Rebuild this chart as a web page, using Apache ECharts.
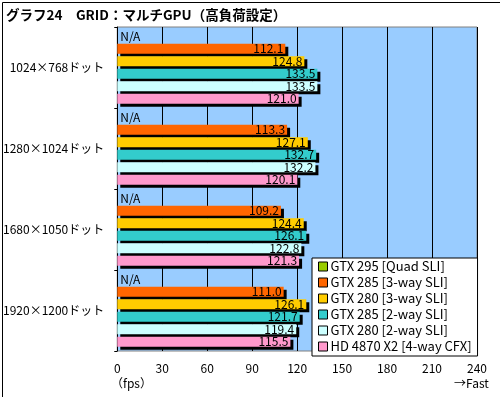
<!DOCTYPE html>
<html>
<head>
<meta charset="utf-8">
<script src="https://cdn.jsdelivr.net/npm/echarts@6/dist/echarts.min.js"></script>
<style>
html, body { margin: 0; padding: 0; background: #fff; }
#chart { width: 500px; height: 397px; }
</style>
</head>
<body>
<div id="chart"></div>
<script>
var categories = ['1024×768ドット', '1280×1024ドット', '1680×1050ドット', '1920×1200ドット'];
var seriesNames = ['GTX 295 [Quad SLI]', 'GTX 285 [3-way SLI]', 'GTX 280 [3-way SLI]', 'GTX 285 [2-way SLI]', 'GTX 280 [2-way SLI]', 'HD 4870 X2 [4-way CFX]'];
var seriesColors = ['#99CC00', '#FF6600', '#FFCC00', '#33CCCC', '#CCFFFF', '#FF99CC'];
// GTX 295 は N/A
var gtx295quad = [0, 0, 0, 0];
var gtx285tri = [112.1, 113.3, 109.2, 111.0];
var gtx280tri = [124.8, 127.1, 124.4, 126.1];
var gtx285sli = [133.5, 132.7, 126.1, 121.7];
var gtx280sli = [133.5, 132.2, 122.8, 119.4];
var hd4870cfx = [121.0, 120.1, 121.3, 115.5];
var allData = [gtx295quad, gtx285tri, gtx280tri, gtx285sli, gtx280sli, hd4870cfx];
var xTicks = [0, 30, 60, 90, 120, 150, 180, 210, 240];

var fontJP = '"Noto Sans CJK JP", "DejaVu Sans", sans-serif';

var option = {
    animation: false,
    textStyle: {fontFamily: fontJP},
    grid: {
        left: 113,
        right: 23,
        top: 27,
        bottom: 46,
        show: true,
        backgroundColor: '#99CCFF',
        borderColor: '#808080',
        borderWidth: 1
    },
    legend: {
        data: seriesNames,
        orient: 'vertical',
        left: 312,
        top: 258,
        backgroundColor: '#fff',
        borderColor: '#000',
        borderWidth: 1,
        borderRadius: 0,
        padding: [2, 6, 3, 6],
        itemWidth: 9,
        itemHeight: 9,
        itemGap: 3,
        icon: 'rect',
        itemStyle: {borderColor: '#000', borderWidth: 1},
        textStyle: {fontSize: 13, lineHeight: 12, color: '#000', padding: [0, 0, 0, -2]}
    },
    xAxis: {
        type: 'value',
        min: 0,
        max: 240,
        interval: 30,
        axisLine: {show: false},
        axisTick: {show: false},
        splitLine: {show: true, lineStyle: {color: '#000', width: 1}},
        axisLabel: {
            color: '#000',
            fontSize: 12,
            margin: 11,
            formatter: function (v) { return xTicks.indexOf(v) >= 0 ? String(v) : ''; }
        }
    },
    yAxis: {
        type: 'category',
        inverse: true,
        data: categories,
        axisLine: {show: true, lineStyle: {color: '#000'}},
        axisTick: {show: true, length: 3, lineStyle: {color: '#000'}},
        axisLabel: {color: '#000', fontSize: 12, margin: 13}
    },
    graphic: [
        {
            type: 'rect',
            left: 0, top: 0,
            shape: {x: 0.5, y: 0.5, width: 499, height: 396},
            style: {fill: null, stroke: '#000', lineWidth: 1},
            z: 100
        },
        {
            type: 'text', left: 6, top: 8,
            style: {text: 'グラフ24　GRID：マルチGPU（高負荷設定）', font: 'bold 13.5px ' + fontJP, fill: '#000'}
        },
        {
            type: 'text', left: 111, top: 377,
            style: {text: '（fps）', font: '12px ' + fontJP, fill: '#000'}
        },
        {
            type: 'text', left: 454, top: 377,
            style: {text: '→Fast', font: '12px ' + fontJP, fill: '#000'}
        }
    ],
    series: function () {
        var serie = [];
        for (var i = 0; i < seriesNames.length; i++) {
            var isNA = (i === 0);
            serie.push({
                name: seriesNames[i],
                type: 'bar',
                data: allData[i],
                barWidth: 10,
                barGap: '25%',
                itemStyle: {
                    color: seriesColors[i],
                    shadowColor: '#000',
                    shadowOffsetX: 3,
                    shadowOffsetY: 3,
                    shadowBlur: 0
                },
                label: {
                    show: true,
                    position: isNA ? 'right' : 'insideRight',
                    distance: isNA ? 3 : 2,
                    color: '#000',
                    fontSize: 12,
                    formatter: isNA ? function () { return 'N/A'; } : function (p) { return p.value.toFixed(1); }
                }
            });
        }
        return serie;
    }()
};
var myChart = echarts.init(document.getElementById('chart'));
myChart.setOption(option);
</script>
</body>
</html>
